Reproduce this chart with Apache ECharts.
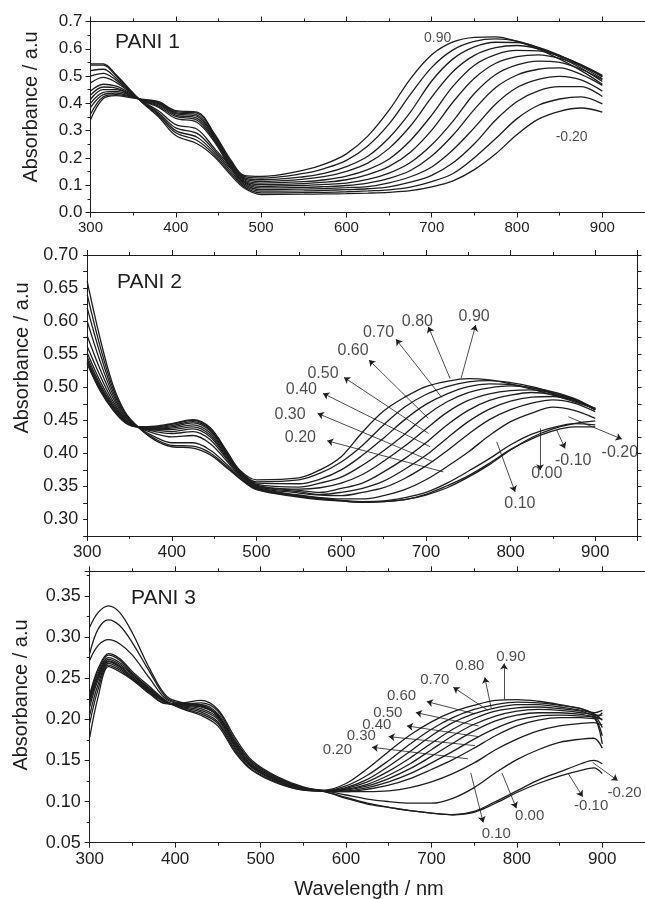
<!DOCTYPE html>
<html><head><meta charset="utf-8">
<script src="https://cdn.jsdelivr.net/npm/echarts@6/dist/echarts.min.js"></script>
<style>html,body{margin:0;padding:0;background:#fff}#c{width:645px;height:899px}</style>
</head><body><div id="c"></div>
<script>
// ---------- DATA ----------
const potentials = ['-0.20','-0.10','0.00','0.10','0.20','0.30','0.40','0.50','0.60','0.70','0.80','0.90'];

// Panel 1 (PANI 1)
const p1_x = [300,315,330,345,360,380,400,425,445,465,480,500,550,575,600,625,650,675,700,725,750,775,800,825,850,875,900];
const p1_n020 = [0.545,0.545,0.505,0.455,0.405,0.350,0.282,0.252,0.205,0.135,0.090,0.066,0.067,0.068,0.069,0.071,0.074,0.080,0.094,0.116,0.157,0.215,0.286,0.342,0.371,0.383,0.368];
const p1_n010 = [0.540,0.540,0.500,0.452,0.406,0.355,0.292,0.264,0.212,0.142,0.095,0.072,0.073,0.074,0.076,0.079,0.083,0.093,0.113,0.143,0.201,0.271,0.344,0.393,0.416,0.424,0.398];
const p1_000 = [0.520,0.525,0.492,0.450,0.407,0.360,0.300,0.276,0.220,0.150,0.100,0.078,0.079,0.081,0.084,0.087,0.094,0.111,0.136,0.182,0.252,0.339,0.407,0.446,0.461,0.461,0.425];
const p1_010 = [0.500,0.510,0.485,0.447,0.408,0.365,0.310,0.290,0.228,0.158,0.105,0.084,0.086,0.088,0.091,0.095,0.109,0.131,0.167,0.230,0.311,0.398,0.458,0.488,0.499,0.486,0.445];
const p1_020 = [0.475,0.495,0.477,0.444,0.409,0.372,0.322,0.305,0.236,0.166,0.110,0.090,0.092,0.095,0.099,0.108,0.125,0.154,0.207,0.284,0.378,0.458,0.504,0.525,0.530,0.506,0.466];
const p1_030 = [0.445,0.470,0.463,0.440,0.410,0.385,0.345,0.330,0.260,0.160,0.112,0.096,0.099,0.103,0.108,0.121,0.144,0.183,0.248,0.335,0.436,0.506,0.541,0.555,0.550,0.525,0.487];
const p1_040 = [0.430,0.460,0.456,0.437,0.411,0.390,0.352,0.338,0.265,0.165,0.116,0.102,0.106,0.111,0.120,0.139,0.169,0.221,0.302,0.405,0.492,0.547,0.571,0.578,0.565,0.537,0.500];
const p1_050 = [0.415,0.450,0.450,0.434,0.412,0.394,0.357,0.345,0.270,0.170,0.120,0.108,0.113,0.120,0.133,0.157,0.196,0.264,0.357,0.463,0.540,0.579,0.594,0.592,0.573,0.542,0.503];
const p1_060 = [0.400,0.440,0.444,0.431,0.413,0.398,0.362,0.352,0.275,0.175,0.124,0.114,0.122,0.132,0.151,0.181,0.235,0.317,0.423,0.517,0.576,0.604,0.612,0.600,0.575,0.541,0.497];
const p1_070 = [0.385,0.432,0.438,0.428,0.414,0.401,0.366,0.358,0.280,0.180,0.128,0.120,0.131,0.144,0.168,0.206,0.274,0.368,0.482,0.563,0.607,0.624,0.623,0.605,0.576,0.536,0.490];
const p1_080 = [0.360,0.424,0.432,0.425,0.414,0.404,0.370,0.364,0.285,0.185,0.132,0.126,0.143,0.162,0.191,0.244,0.325,0.433,0.532,0.596,0.627,0.636,0.628,0.604,0.570,0.529,0.480];
const p1_090 = [0.340,0.418,0.428,0.422,0.415,0.406,0.373,0.368,0.290,0.190,0.136,0.132,0.155,0.178,0.215,0.280,0.375,0.490,0.578,0.625,0.642,0.644,0.627,0.599,0.562,0.520,0.470];
const p1_noteText = ['0.90','-0.20'];
const p1_noteAt = [[707,0.639],[864,0.277]];

// Panel 2 (PANI 2)
const p2_x = [300,315,330,345,360,380,400,425,445,465,480,500,550,575,600,625,650,675,700,725,750,775,800,825,850,875,900];
const p2_n020 = [0.660,0.575,0.505,0.462,0.440,0.420,0.410,0.408,0.398,0.378,0.362,0.345,0.334,0.330,0.328,0.326,0.327,0.330,0.337,0.348,0.364,0.383,0.405,0.424,0.437,0.445,0.449];
const p2_n010 = [0.640,0.563,0.500,0.460,0.440,0.422,0.412,0.411,0.401,0.380,0.363,0.346,0.335,0.331,0.328,0.326,0.327,0.330,0.338,0.351,0.366,0.385,0.406,0.422,0.434,0.440,0.440];
const p2_000 = [0.620,0.552,0.495,0.458,0.440,0.425,0.416,0.416,0.405,0.383,0.364,0.347,0.336,0.332,0.329,0.327,0.328,0.333,0.341,0.355,0.373,0.392,0.413,0.429,0.439,0.445,0.443];
const p2_010 = [0.600,0.540,0.490,0.456,0.440,0.430,0.425,0.427,0.415,0.388,0.366,0.348,0.337,0.333,0.331,0.331,0.336,0.345,0.360,0.380,0.402,0.427,0.448,0.461,0.470,0.465,0.453];
const p2_020 = [0.578,0.528,0.485,0.454,0.440,0.433,0.430,0.433,0.421,0.391,0.368,0.349,0.340,0.337,0.336,0.341,0.348,0.362,0.381,0.404,0.429,0.451,0.466,0.476,0.481,0.476,0.463];
const p2_030 = [0.562,0.518,0.480,0.452,0.440,0.435,0.433,0.437,0.425,0.393,0.369,0.350,0.342,0.338,0.341,0.347,0.358,0.376,0.397,0.423,0.448,0.467,0.479,0.485,0.486,0.480,0.466];
const p2_040 = [0.552,0.510,0.476,0.451,0.440,0.436,0.436,0.440,0.428,0.395,0.370,0.351,0.344,0.341,0.347,0.355,0.372,0.392,0.416,0.443,0.465,0.480,0.488,0.492,0.489,0.480,0.466];
const p2_050 = [0.546,0.505,0.473,0.450,0.440,0.437,0.438,0.443,0.431,0.397,0.371,0.352,0.346,0.348,0.355,0.368,0.388,0.411,0.437,0.462,0.480,0.490,0.495,0.496,0.491,0.482,0.466];
const p2_060 = [0.542,0.502,0.471,0.449,0.440,0.438,0.440,0.446,0.434,0.399,0.372,0.353,0.349,0.355,0.364,0.382,0.404,0.429,0.457,0.478,0.492,0.499,0.502,0.499,0.493,0.483,0.467];
const p2_070 = [0.539,0.499,0.469,0.448,0.440,0.439,0.442,0.448,0.436,0.400,0.373,0.355,0.354,0.361,0.375,0.397,0.423,0.451,0.474,0.490,0.501,0.505,0.504,0.499,0.491,0.481,0.467];
const p2_080 = [0.537,0.497,0.467,0.447,0.440,0.440,0.444,0.450,0.438,0.402,0.374,0.357,0.360,0.370,0.387,0.412,0.443,0.470,0.489,0.501,0.508,0.510,0.507,0.501,0.492,0.481,0.468];
const p2_090 = [0.535,0.495,0.466,0.446,0.440,0.441,0.445,0.451,0.439,0.403,0.375,0.360,0.363,0.375,0.395,0.432,0.464,0.485,0.501,0.509,0.513,0.511,0.505,0.497,0.488,0.478,0.468];
const p2_noteText = ['0.90','0.80','0.70','0.60','0.50','0.40','0.30','0.20','0.10','0.00','-0.10','-0.20'];
const p2_noteAt = [[757,0.607],[690,0.599],[644,0.5825],[614,0.555],[578.5,0.521],[553,0.4957],[539.6,0.4589],[551.8,0.424],[811,0.3242],[842.7,0.3696],[874,0.3898],[929,0.4014]];
const p2_arrowFrom = [[741.5,0.5134],[728.5,0.5134],[718.7,0.4846],[702.9,0.4528],[702.9,0.4302],[705,0.41],[709,0.387],[720.6,0.372],[783.6,0.4175],[834.8,0.4377],[854.5,0.4352],[868.2,0.4553]];
const p2_arrowTo = [[758.8,0.594],[702.9,0.5915],[664.7,0.5724],[632.8,0.5411],[603.3,0.5149],[578.5,0.4907],[572.2,0.4604],[583.4,0.419],[805.3,0.3418],[834.8,0.3746],[864.3,0.4074],[931.3,0.4216]];

// Panel 3 (PANI 3)
const p3_x = [300,310,322,335,350,370,390,410,430,450,470,490,520,550,575,600,625,650,675,700,725,750,775,800,825,850,875,890,900];
const p3_n020 = [0.312,0.330,0.338,0.330,0.305,0.262,0.228,0.220,0.218,0.205,0.170,0.143,0.125,0.116,0.112,0.104,0.097,0.093,0.089,0.086,0.084,0.088,0.100,0.113,0.126,0.136,0.146,0.150,0.146];
const p3_n010 = [0.280,0.310,0.321,0.314,0.293,0.258,0.226,0.219,0.217,0.204,0.170,0.143,0.125,0.116,0.112,0.105,0.098,0.093,0.089,0.086,0.084,0.087,0.098,0.111,0.122,0.131,0.138,0.141,0.134];
const p3_000 = [0.272,0.290,0.297,0.292,0.278,0.250,0.224,0.218,0.216,0.204,0.171,0.144,0.126,0.117,0.113,0.108,0.103,0.100,0.098,0.098,0.104,0.117,0.135,0.151,0.163,0.172,0.176,0.177,0.165];
const p3_010 = [0.230,0.262,0.280,0.274,0.258,0.240,0.222,0.212,0.205,0.192,0.160,0.138,0.122,0.114,0.113,0.112,0.112,0.113,0.117,0.124,0.134,0.147,0.163,0.176,0.186,0.192,0.195,0.196,0.193];
const p3_020 = [0.228,0.259,0.278,0.272,0.256,0.238,0.222,0.213,0.207,0.195,0.162,0.139,0.123,0.114,0.113,0.112,0.115,0.120,0.128,0.139,0.151,0.165,0.180,0.192,0.199,0.202,0.202,0.201,0.208];
const p3_030 = [0.225,0.256,0.275,0.269,0.255,0.237,0.221,0.214,0.209,0.197,0.164,0.141,0.124,0.115,0.113,0.113,0.117,0.124,0.134,0.147,0.161,0.176,0.189,0.199,0.204,0.205,0.204,0.202,0.170];
const p3_040 = [0.222,0.253,0.273,0.267,0.254,0.236,0.221,0.215,0.211,0.200,0.166,0.142,0.125,0.115,0.113,0.114,0.119,0.128,0.140,0.155,0.171,0.186,0.198,0.205,0.208,0.208,0.206,0.203,0.200];
const p3_050 = [0.220,0.251,0.271,0.265,0.252,0.235,0.220,0.216,0.213,0.202,0.168,0.144,0.126,0.116,0.113,0.115,0.121,0.132,0.146,0.163,0.180,0.194,0.204,0.210,0.212,0.211,0.208,0.204,0.180];
const p3_060 = [0.215,0.248,0.270,0.264,0.251,0.234,0.220,0.217,0.215,0.205,0.170,0.145,0.127,0.116,0.113,0.116,0.124,0.137,0.153,0.171,0.188,0.201,0.210,0.214,0.215,0.213,0.210,0.205,0.205];
const p3_070 = [0.205,0.243,0.268,0.262,0.250,0.233,0.220,0.218,0.218,0.207,0.173,0.147,0.128,0.117,0.113,0.117,0.127,0.143,0.161,0.180,0.196,0.207,0.214,0.218,0.218,0.215,0.211,0.206,0.190];
const p3_080 = [0.195,0.237,0.266,0.260,0.249,0.232,0.219,0.219,0.220,0.210,0.175,0.148,0.129,0.117,0.113,0.119,0.132,0.150,0.170,0.188,0.202,0.212,0.218,0.221,0.220,0.217,0.213,0.208,0.211];
const p3_090 = [0.178,0.228,0.264,0.258,0.248,0.231,0.219,0.220,0.223,0.212,0.178,0.150,0.130,0.118,0.114,0.122,0.140,0.161,0.181,0.197,0.209,0.217,0.223,0.224,0.222,0.218,0.213,0.207,0.199];
const p3_noteText = ['0.90','0.80','0.70','0.60','0.50','0.40','0.30','0.20','0.10','0.00','-0.10','-0.20'];
const p3_noteAt = [[793,0.276],[745,0.265],[704,0.248],[665,0.228],[649,0.208],[636,0.193],[618,0.180],[590,0.163],[776,0.061],[815,0.083],[887,0.095],[926,0.110]];
const p3_arrowFrom = [[785,0.224],[770,0.2135],[766,0.211],[751,0.2066],[755,0.192],[755,0.179],[751,0.168],[743,0.152],[746,0.135],[782.7,0.1345],[860.4,0.1337],[888.8,0.1475]];
const p3_arrowTo = [[785,0.268],[762.5,0.251],[725.6,0.239],[694.6,0.2216],[681.8,0.2082],[671.3,0.192],[650,0.179],[630.5,0.166],[760.6,0.0746],[799.4,0.092],[877,0.106],[918,0.1256]];

// ---------- CHART ----------
const FONT = '"Liberation Sans", Arial, Helvetica, sans-serif';
const INK = '#1e1e1e';

const panels = [
  { x: p1_x, ys: [p1_n020,p1_n010,p1_000,p1_010,p1_020,p1_030,p1_040,p1_050,p1_060,p1_070,p1_080,p1_090],
    grid: {left: 90.5, top: 21.5, width: 554.8, height: 191},
    yMin: 0, yMax: 0.7, yInt: 0.1, yMinor: true, yFmt: v => v.toFixed(1),
    xFont: 15, yFont: 17, xMargin: 8, yMargin: 8,
    notes: p1_noteText, noteAt: p1_noteAt, from: null, to: null, noteFont: 14 },
  { x: p2_x, ys: [p2_n020,p2_n010,p2_000,p2_010,p2_020,p2_030,p2_040,p2_050,p2_060,p2_070,p2_080,p2_090],
    grid: {left: 87.2, top: 255, width: 550.4, height: 281},
    yMin: 0.275, yMax: 0.70, yInt: 0.025, yMinor: false,
    yFmt: v => (Math.round(v*1000) % 50 === 0 ? v.toFixed(2) : ''),
    xFont: 17, yFont: 18, xMargin: 8, yMargin: 9,
    notes: p2_noteText, noteAt: p2_noteAt, from: p2_arrowFrom, to: p2_arrowTo, noteFont: 16 },
  { x: p3_x, ys: [p3_n020,p3_n010,p3_000,p3_010,p3_020,p3_030,p3_040,p3_050,p3_060,p3_070,p3_080,p3_090],
    grid: {left: 89.7, top: 571.3, width: 557.9, height: 271.4},
    yMin: 0.05, yMax: 0.38, yInt: 0.05, yMinor: true, yFmt: v => v.toFixed(2),
    xFont: 17, yFont: 18, xMargin: 8, yMargin: 9,
    notes: p3_noteText, noteAt: p3_noteAt, from: p3_arrowFrom, to: p3_arrowTo, noteFont: 15 }
];

const grids = [], xAxes = [], yAxes = [], series = [];
const lineSt = {color: INK, width: 1};

panels.forEach((p, gi) => {
  grids.push(Object.assign({containLabel: false}, p.grid));
  ['bottom','top'].forEach(pos => {
    xAxes.push({
      gridIndex: gi, type: 'value', position: pos, min: 300, max: 950, interval: 100,
      axisLine: {show: true, onZero: false, lineStyle: lineSt},
      axisTick: {show: true, inside: false, length: 5, lineStyle: lineSt},
      minorTick: {show: true, splitNumber: 2, length: 3, lineStyle: lineSt},
      splitLine: {show: false}, minorSplitLine: {show: false},
      axisLabel: {show: pos === 'bottom', showMaxLabel: false, fontSize: p.xFont, color: INK,
                  fontFamily: FONT, margin: p.xMargin}
    });
  });
  ['left','right'].forEach(pos => {
    yAxes.push({
      gridIndex: gi, type: 'value', position: pos, min: p.yMin, max: p.yMax, interval: p.yInt,
      axisLine: {show: true, onZero: false, lineStyle: lineSt},
      axisTick: {show: true, inside: false, length: p.yMinor ? 5 : 4, lineStyle: lineSt},
      minorTick: {show: p.yMinor, splitNumber: 2, length: 3, lineStyle: lineSt},
      splitLine: {show: false}, minorSplitLine: {show: false},
      axisLabel: {show: pos === 'left', showMaxLabel: gi !== 2, fontSize: p.yFont, color: INK,
                  fontFamily: FONT, margin: p.yMargin, formatter: p.yFmt}
    });
  });
  p.ys.forEach((arr, si) => {
    series.push({
      type: 'line', name: 'P' + (gi+1) + ' ' + potentials[si],
      xAxisIndex: gi*2, yAxisIndex: gi*2,
      data: p.x.map((w, i) => [w, arr[i]]),
      showSymbol: false, symbol: 'none', smooth: 0.35, silent: true,
      lineStyle: {color: INK, width: 1.3}, z: 2
    });
  });
  const noteSeries = {
    type: 'scatter', xAxisIndex: gi*2, yAxisIndex: gi*2, silent: true,
    symbol: 'circle', symbolSize: 1, itemStyle: {color: 'rgba(0,0,0,0)'},
    data: p.notes.map((t, i) => ({name: t, value: p.noteAt[i]})),
    label: {show: true, position: 'inside', formatter: '{b}', color: INK,
            fontSize: p.noteFont, fontFamily: FONT},
    clip: false, z: 5
  };
  if (p.from) {
    noteSeries.markLine = {
      silent: true, symbol: ['none', 'arrow'], symbolSize: 6, animation: false,
      lineStyle: {color: INK, width: 0.8, type: 'solid'},
      label: {show: false}, emphasis: {disabled: true},
      data: p.from.map((f, i) => [{coord: f}, {coord: p.to[i]}])
    };
  }
  series.push(noteSeries);
});

const chart = echarts.init(document.getElementById('c'), null, {renderer: 'canvas'});
chart.setOption({
  animation: false,
  backgroundColor: '#fff',
  textStyle: {fontFamily: FONT},
  grid: grids, xAxis: xAxes, yAxis: yAxes, series: series,
  graphic: [
    {type: 'text', x: 115, y: 42, style: {text: 'PANI 1', fill: INK, font: '21px ' + FONT, textVerticalAlign: 'middle', textAlign: 'left'}},
    {type: 'text', x: 117, y: 282, style: {text: 'PANI 2', fill: INK, font: '21px ' + FONT, textVerticalAlign: 'middle', textAlign: 'left'}},
    {type: 'text', x: 131, y: 598, style: {text: 'PANI 3', fill: INK, font: '21px ' + FONT, textVerticalAlign: 'middle', textAlign: 'left'}},
    {type: 'text', x: 31, y: 107, rotation: Math.PI/2, style: {text: 'Absorbance / a.u', fill: INK, font: '20px ' + FONT, textVerticalAlign: 'middle', textAlign: 'center'}},
    {type: 'text', x: 22, y: 358, rotation: Math.PI/2, style: {text: 'Absorbance / a.u', fill: INK, font: '20px ' + FONT, textVerticalAlign: 'middle', textAlign: 'center'}},
    {type: 'text', x: 21, y: 695, rotation: Math.PI/2, style: {text: 'Absorbance / a.u', fill: INK, font: '20px ' + FONT, textVerticalAlign: 'middle', textAlign: 'center'}},
    {type: 'text', x: 369, y: 889, style: {text: 'Wavelength / nm', fill: INK, font: '20px ' + FONT, textVerticalAlign: 'middle', textAlign: 'center'}}
  ]
});
</script>
</body></html>
